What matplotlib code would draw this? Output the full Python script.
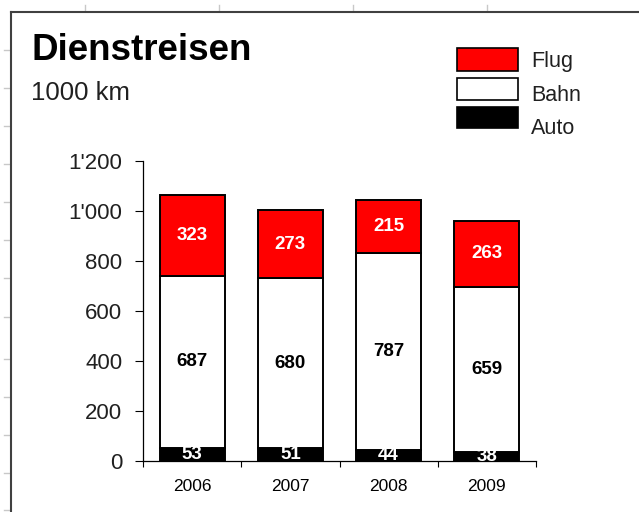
import matplotlib
matplotlib.use("Agg")
import matplotlib.pyplot as plt
from matplotlib.patches import Rectangle
from matplotlib.lines import Line2D
import numpy as np

plt.rcParams['font.family'] = ['Liberation Sans', 'DejaVu Sans']

# ---- data ----
years = ["2006", "2007", "2008", "2009"]
auto = [53, 51, 44, 38]
bahn = [687, 680, 787, 659]
flug = [323, 273, 215, 263]
series_names = ["Auto", "Bahn", "Flug"]
series_colors = ["#000000", "#ffffff", "#ff0000"]
label_colors = ["white", "black", "white"]
y_ticks = [0, 200, 400, 600, 800, 1000, 1200]
y_tick_labels = ["0", "200", "400", "600", "800", "1'000", "1'200"]
title = "Dienstreisen"
subtitle = "1000 km"

W, H = 639, 512
fig = plt.figure(figsize=(W / 100, H / 100), dpi=100)
fig.patch.set_facecolor("white")


def fx(x):
    return x / W


def fy(y):
    return 1 - y / H


# spreadsheet frame decorations
for yy in [50, 88, 126, 164, 202, 240, 278, 317, 359, 397, 435, 473, 510]:
    fig.add_artist(Line2D([fx(4), fx(10)], [fy(yy), fy(yy)], color="#c8c8c8", lw=1.0,
                          transform=fig.transFigure))
for xx in [85, 219, 353, 487]:
    fig.add_artist(Line2D([fx(xx), fx(xx)], [fy(5), fy(11)], color="#c8c8c8", lw=1.0,
                          transform=fig.transFigure))
fig.add_artist(Line2D([fx(11), fx(11)], [fy(12), fy(512)], color="#404040", lw=1.5,
                      transform=fig.transFigure))
fig.add_artist(Line2D([fx(11), fx(639)], [fy(12), fy(12)], color="#404040", lw=1.5,
                      transform=fig.transFigure))

# ---- axes ----
ax = fig.add_axes([fx(143), fy(461), (536 - 143) / W, (461 - 161) / H])
x = np.arange(len(years))
bottom = np.zeros(len(years))
for vals, color, lc in zip([auto, bahn, flug], series_colors, label_colors):
    bars = ax.bar(x, vals, width=0.66, bottom=bottom, color=color,
                  edgecolor="black", linewidth=1.4, zorder=3)
    ax.bar_label(bars, labels=[str(v) for v in vals], label_type="center",
                 color=lc, fontweight="bold", fontsize=13.5, zorder=4)
    bottom += np.array(vals)

ax.set_xlim(-0.5, len(years) - 0.5)
ax.set_ylim(0, 1200)
ax.set_xticks(np.arange(-0.5, len(years), 1.0))
ax.set_xticklabels([])
ax.set_xticks(x, minor=True)
ax.set_xticklabels(years, minor=True, fontsize=12.5)
ax.tick_params(axis="x", which="major", direction="out", length=4.5, width=0.8, color="black")
ax.tick_params(axis="x", which="minor", length=0, pad=13)
ax.set_yticks(y_ticks)
ax.set_yticklabels(y_tick_labels, fontsize=16, color="#202020")
ax.tick_params(axis="y", direction="out", length=6, width=0.8, pad=9)

for s in ["top", "right"]:
    ax.spines[s].set_visible(False)
for s in ["left", "bottom"]:
    ax.spines[s].set_linewidth(0.9)
    ax.spines[s].set_color("black")

# ---- titles ----
fig.text(fx(31), fy(60), title, fontsize=26.5, fontweight="bold", va="baseline", ha="left")
fig.text(fx(31), fy(100), subtitle, fontsize=18.5, va="baseline", ha="left", color="#202020")

# ---- legend (manual) ----
leg_order = [2, 1, 0]
box_tops = [48, 78, 107]
box_bottoms = [71, 100, 128]
text_baselines = [67, 101, 134]
for i, top, bot, tb in zip(leg_order, box_tops, box_bottoms, text_baselines):
    fig.add_artist(Rectangle((fx(457), fy(bot)), (518 - 457) / W, (bot - top) / H,
                             facecolor=series_colors[i], edgecolor="black", lw=1.2,
                             transform=fig.transFigure))
    fig.text(fx(531), fy(tb), series_names[i], fontsize=15.5, va="baseline", ha="left",
             color="#202020")

fig.savefig("out.png", dpi=100)
